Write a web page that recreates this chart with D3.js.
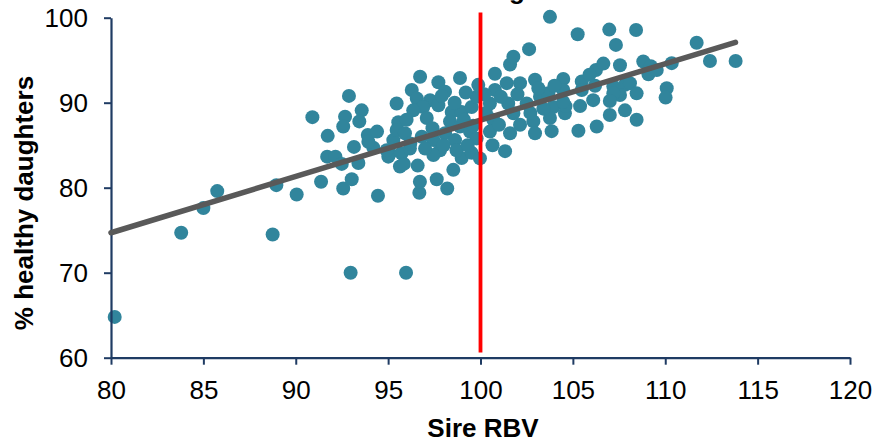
<!DOCTYPE html>
<html><head><meta charset="utf-8">
<script src="https://cdn.jsdelivr.net/npm/d3@7"></script>
<style>
body{margin:0;background:#fff}
svg{display:block}
text{font-family:"Liberation Sans",Arial,Helvetica,sans-serif}
</style>
</head><body>
<svg id="chart" width="883" height="442"></svg>
<script>
// ---- data ----
const titleText = "Sire RBV and daughter health";
const xLabel = "Sire RBV";
const yLabel = "% healthy daughters";
const xTicks = [80, 85, 90, 95, 100, 105, 110, 115, 120];
const yTicks = [60, 70, 80, 90, 100];

const sireRBV = [
  80.2, 83.8, 85.0, 85.75, 88.75, 88.95, 90.05, 92.97, 95.97, 94.45,
  91.37, 92.57, 93.03, 96.69, 96.72, 97.63, 98.2, 90.9, 92.88, 91.73,
  92.67, 92.57, 93.57, 93.44, 93.9, 93.15, 91.7, 92.15, 92.49, 93.39,
  94.2, 93.93, 95.01, 95.46, 95.55, 95.28, 95.1, 95.64, 96.73, 98.89,
  97.72, 96.28, 98.08, 96.55, 97.27, 96.9, 97.72, 96.36, 97.09, 98.44,
  98.98, 99.52, 99.79, 99.88, 95.46, 95.91, 96.82, 97.45, 98.08, 98.35,
  98.89, 98.62, 99.43, 99.79, 94.92, 95.73, 95.85, 96.6, 97.81, 98.98,
  99.52, 99.97, 98.53, 98.7, 97.45, 96.18, 100.78, 101.6, 100.78, 101.42,
  102.14, 102.95, 104.48, 100.51, 101.5, 102.5, 103.22, 103.94, 100.69, 101.78,
  102.14, 102.86, 103.76, 104.57, 100.51, 101.6, 102.95, 103.85, 105.3, 100.65,
  101.33, 103.76, 105.26, 106.97, 108.42, 107.33, 102.63, 101.78, 106.25, 106.65,
  107.55, 108.81, 109.22, 109.09, 110.35, 110.08, 110.02, 105.48, 105.48, 104.48,
  103.67, 103.13, 106.2, 107.19, 107.82, 108.09, 108.45, 107.55, 107.19, 107.0,
  106.1, 105.39, 104.6, 104.48, 107.0, 107.82, 108.45, 106.29, 111.7, 112.42,
  113.81, 97.9, 98.6, 99.2, 96.0, 97.4, 99.1, 100.3, 100.2, 101.1,
  102.0, 102.7, 103.4, 101.0, 99.6, 94.4, 96.2, 97.0, 98.0, 99.3,
  105.9, 104.0, 109.54
];
const pctHealthy = [
  64.8, 74.7, 77.6, 79.6, 74.5, 80.3, 79.2, 70.0, 70.0, 79.05,
  80.7, 79.9, 81.0, 79.4, 80.7, 81.0, 79.9, 88.3, 90.8, 86.1,
  88.35, 87.2, 89.1, 87.8, 86.2, 84.8, 83.65, 83.65, 82.8, 82.9,
  84.7, 85.4, 83.65, 89.9, 87.7, 85.6, 84.05, 82.5, 93.06, 92.9,
  92.4, 91.5, 91.3, 90.5, 90.3, 89.5, 89.7, 89.1, 88.2, 88.9,
  88.9, 89.5, 90.7, 92.1, 86.8, 86.4, 86.0, 85.6, 86.4, 87.8,
  87.2, 85.6, 86.6, 85.8, 84.4, 84.05, 82.8, 82.6, 84.4, 83.5,
  84.1, 83.45, 82.1, 84.4, 83.85, 84.6, 93.4, 94.5, 91.5, 92.3,
  92.3, 92.7, 92.8, 89.9, 89.9, 89.9, 90.7, 89.5, 88.0, 88.75,
  87.4, 87.8, 88.2, 88.75, 86.6, 86.4, 86.4, 86.65, 86.7, 85.0,
  84.3, 100.1, 98.05, 98.6, 98.55, 96.8, 96.3, 95.4, 93.85, 94.6,
  94.4, 94.85, 94.3, 93.35, 94.65, 91.7, 90.6, 92.5, 91.5, 91.5,
  91.1, 91.7, 92.0, 91.9, 92.1, 92.3, 91.1, 90.9, 91.1, 90.2,
  90.3, 89.6, 89.6, 90.1, 88.55, 89.1, 88.0, 87.2, 97.06, 94.9,
  94.9, 90.8, 90.0, 91.2, 88.0, 87.0, 88.0, 88.8, 91.0, 90.7,
  91.0, 88.8, 89.3, 87.4, 87.3, 86.6, 85.2, 84.6, 85.0, 85.0,
  93.3, 92.0, 93.85
];
const trendX = [80, 113.8];
const trendY = [74.7, 97.1];
const refX = [100, 100];
const refY = [60.6, 100.6];

// ---- layout ----
const plot = {left: 111, right: 850, top: 17.7, bottom: 357.7};
const axisColor = "#1F3B63";

const svg = d3.select("#chart");
const x = d3.scaleLinear().domain([80, 120]).range([plot.left, plot.right]);
const y = d3.scaleLinear().domain([60, 100]).range([plot.bottom, plot.top]);

// points
const pts = sireRBV.map((v, i) => ({x: v, y: pctHealthy[i]}));
svg.append("g").selectAll("circle").data(pts).join("circle")
  .attr("cx", d => x(d.x)).attr("cy", d => y(d.y)).attr("r", 7)
  .attr("fill", "#31859C");

// axes
const gx = svg.append("g").attr("transform", `translate(0,${plot.bottom})`)
  .call(d3.axisBottom(x).tickValues(xTicks).tickSize(7).tickSizeOuter(0).tickPadding(16).tickFormat(d3.format("d")));
const gy = svg.append("g").attr("transform", `translate(${plot.left},0)`)
  .call(d3.axisLeft(y).tickValues(yTicks).tickSize(7).tickSizeOuter(0).tickPadding(16).tickFormat(d3.format("d")));
[gx, gy].forEach(g => {
  g.select(".domain").attr("stroke", axisColor).attr("stroke-width", 2.2);
  g.selectAll(".tick line").attr("stroke", axisColor).attr("stroke-width", 2);
  g.selectAll(".tick text").attr("fill", "#000").style("font-size", "26px")
    .style("font-family", '"Liberation Sans",Arial,sans-serif');
});

// trend line
const trend = trendX.map((v, i) => ({x: v, y: trendY[i]}));
svg.append("path").datum(trend)
  .attr("d", d3.line().x(d => x(d.x)).y(d => y(d.y)))
  .attr("stroke", "#595959").attr("stroke-width", 5.5).attr("stroke-linecap", "round").attr("fill", "none");

// reference line
const ref = refX.map((v, i) => ({x: v, y: refY[i]}));
svg.append("path").datum(ref)
  .attr("d", d3.line().x(d => x(d.x)).y(d => y(d.y)))
  .attr("stroke", "#FF0000").attr("stroke-width", 3.8).attr("fill", "none");

// axis titles
svg.append("text").attr("x", 483).attr("y", 437).attr("text-anchor", "middle")
  .style("font-size", "26px").style("font-weight", "bold").text(xLabel);
svg.append("text").attr("transform", "translate(33,203) rotate(-90)").attr("text-anchor", "middle")
  .style("font-size", "26px").style("font-weight", "bold").text(yLabel);

// chart title (mostly cropped above the frame, as in the reference)
const t = svg.append("text").attr("x", 0).attr("y", -1)
  .style("font-size", "26px").style("font-weight", "bold").text(titleText);
const gi = titleText.indexOf("g");
try {
  const ext = t.node().getExtentOfChar(gi);
  t.attr("x", 517 - (ext.x + ext.width / 2));
} catch (e) { t.attr("x", 400); }
</script>
</body></html>
